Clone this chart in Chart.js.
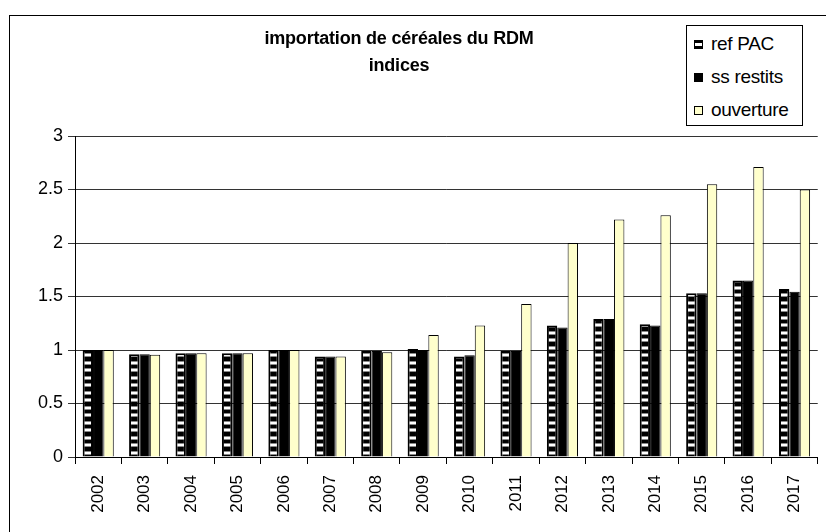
<!DOCTYPE html>
<html>
<head>
<meta charset="utf-8">
<script src="https://cdn.jsdelivr.net/npm/chart.js"></script>
<style>
  body { margin: 0; width: 826px; height: 532px; overflow: hidden; background: #fff; position: relative; font-family: "Liberation Sans", Arial, sans-serif; }
  #frame { position: absolute; left: 9px; top: 15px; width: 900px; height: 600px; border: 1px solid #000; }
  #wrap { position: absolute; left: 0; top: 0; width: 826px; height: 532px; }
  #title { position: absolute; left: 199px; top: 25px; width: 400px; text-align: center; font-weight: bold; font-size: 18px; line-height: 27px; color: #000; letter-spacing: -0.2px; }
  #legend { position: absolute; left: 686px; top: 25px; width: 115px; height: 99px; border: 1px solid #000; background: #fff; }
  .item { position: absolute; left: 7px; height: 33px; line-height: 33px; font-size: 19px; color: #000; white-space: nowrap; letter-spacing: -0.3px; }
  .sw { display: inline-block; width: 7px; height: 7px; border: 1px solid #000; margin-right: 8px; vertical-align: 1px; }
</style>
</head>
<body>
<div id="frame"></div>
<div id="wrap"><canvas id="chart" width="826" height="532"></canvas></div>
<div id="title">importation de céréales du RDM<br>indices</div>
<div id="legend"></div>
<script>
// chart data
const years = ["2002", "2003", "2004", "2005", "2006", "2007", "2008", "2009",
  "2010", "2011", "2012", "2013", "2014", "2015", "2016", "2017"];
const refPAC = [1.00, 0.96, 0.97, 0.97, 1.00, 0.94, 0.99, 1.01, 0.94, 0.99, 1.23, 1.29, 1.24, 1.53, 1.65, 1.57];
const ssRestits = [1.00, 0.96, 0.97, 0.97, 1.00, 0.94, 0.99, 1.00, 0.95, 0.99, 1.21, 1.29, 1.23, 1.53, 1.65, 1.545];
const ouverture = [1.00, 0.955, 0.97, 0.97, 1.00, 0.94, 0.98, 1.14, 1.23, 1.43, 2.00, 2.22, 2.26, 2.55, 2.71, 2.50];
const yTicks = [0, 0.5, 1, 1.5, 2, 2.5, 3];

// striped fill for "ref PAC" (black with white horizontal dashes)
function stripePattern() {
  const c = document.createElement("canvas");
  c.width = 4;
  c.height = 15;
  const g = c.getContext("2d");
  g.fillStyle = "#000";
  g.fillRect(0, 0, 4, 15);
  g.fillStyle = "#888";
  g.fillRect(0, 1, 4, 4);
  g.fillRect(0, 8, 4, 4);
  g.fillStyle = "#fff";
  g.fillRect(0, 2, 4, 2);
  g.fillRect(0, 9, 4, 2);
  return g.createPattern(c, "repeat");
}

const ctx = document.getElementById("chart").getContext("2d");
const family = "'Liberation Sans', Arial, sans-serif";

const chart = new Chart(ctx, {
  type: "bar",
  data: {
    labels: years,
    datasets: [
      { label: "ref PAC", data: refPAC, backgroundColor: stripePattern(), borderColor: "#000", borderWidth: 2 },
      { label: "ss restits", data: ssRestits, backgroundColor: "#000", borderColor: "#000", borderWidth: 1 },
      { label: "ouverture", data: ouverture, backgroundColor: "#FFFFCC", borderColor: "#000", borderWidth: 1 },
    ],
  },
  options: {
    responsive: false,
    animation: false,
    layout: { padding: { top: 136, right: 2, left: 0, bottom: 0 } },
    datasets: { bar: { categoryPercentage: 0.67, barPercentage: 1.0 } },
    scales: {
      x: {
        grid: { drawOnChartArea: false, drawTicks: true, tickLength: 7, color: "#000", offset: true },
        border: { color: "#000", width: 1 },
        ticks: { color: "#000", font: { family: family, size: 17 }, minRotation: 90, maxRotation: 90, padding: 11 },
        afterFit: (s) => { s.height = 75; },
      },
      y: {
        min: 0,
        max: 3,
        afterBuildTicks: (s) => { s.ticks = yTicks.map((v) => ({ value: v })); },
        grid: { color: "#333", tickLength: 7 },
        border: { color: "#000", width: 1 },
        ticks: { color: "#000", font: { family: family, size: 18 }, padding: 5, callback: (v) => String(v) },
        afterFit: (s) => { s.width = 75; },
      },
    },
    plugins: {
      legend: { display: false },
      title: { display: false },
      tooltip: { enabled: false },
    },
  },
});

// legend box built from the datasets
const legend = document.getElementById("legend");
chart.data.datasets.forEach((ds, i) => {
  const item = document.createElement("div");
  item.className = "item";
  item.style.top = (1 + i * 33) + "px";
  const sw = document.createElement("span");
  sw.className = "sw";
  if (i === 0) sw.style.background = "linear-gradient(#000 0 35%, #fff 35% 65%, #000 65%)";
  else sw.style.background = ds.backgroundColor;
  item.appendChild(sw);
  item.appendChild(document.createTextNode(ds.label));
  legend.appendChild(item);
});
</script>
</body>
</html>
